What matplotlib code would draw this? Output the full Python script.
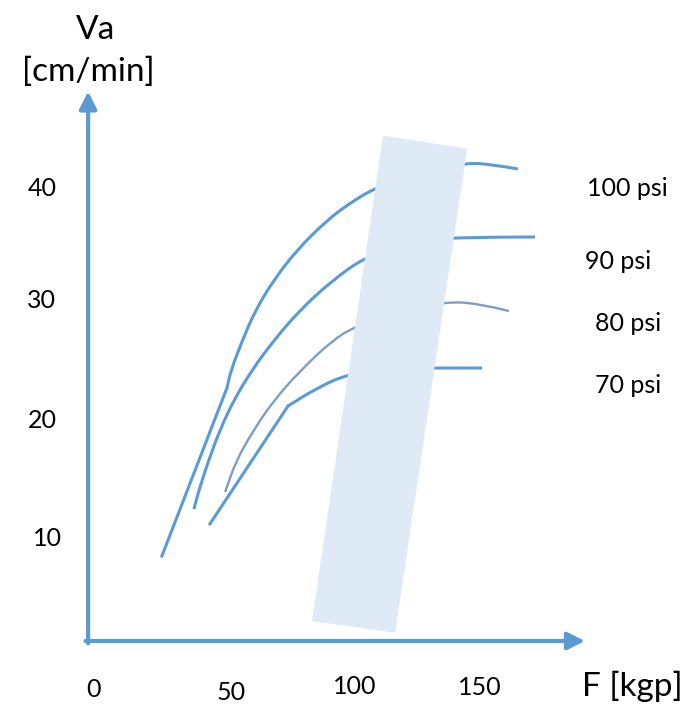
import matplotlib
matplotlib.use("Agg")
import matplotlib.pyplot as plt
from matplotlib.patches import Polygon, PathPatch
from matplotlib.path import Path

plt.rcParams['font.family'] = ['Lato', 'DejaVu Sans']

# curves: force F [kgp] vs. speed Va [cm/min]
# first point of 100 psi and 70 psi is the start of a straight segment
f_100 = [26.7, 51.9, 53.5, 57.8, 62.8, 69.8, 78.7, 90.3, 99.6, 109.3,
         126.7, 144.2, 153.9, 164.7]
va_100 = [8.48, 22.88, 24.42, 26.91, 29.48, 32.05, 34.62, 37.19, 38.73,
          40.02, 41.39, 42.16, 42.07, 41.65]

f_90 = [39.1, 41.1, 44.7, 49.2, 54.4, 61.6, 69.9, 80.2, 92.5, 105.4, 122.9,
        140.3, 171.3]
va_90 = [12.51, 14.14, 16.62, 19.28, 21.77, 24.42, 26.91, 29.56, 32.05, 34.10,
         35.39, 35.82, 35.82]

f_80 = [51.2, 55.4, 62.0, 69.9, 80.2, 92.5, 101.2, 119.0, 136.4, 148.8, 161.2]
va_80 = [13.97, 16.62, 19.19, 21.77, 24.34, 26.91, 28.11, 29.56, 30.25, 30.16,
         29.48]

f_70 = [45.3, 75.6, 86.8, 98.8, 117.1, 133.3, 150.8]
va_70 = [11.23, 21.34, 22.88, 24.08, 24.59, 24.59, 24.59]

# shaded working band (corners)
band_f = [112.4, 145.0, 117.1, 84.9]
band_va = [44.5, 43.4, 1.9, 2.9]

x_ticks = ["0", "50", "100", "150"]
x_tick_pos = [(0, -3.0), (53.5, -3.2), (101.6, -2.7), (150, -2.8)]
y_ticks = ["40", "30", "20", "10"]
y_tick_pos = [(-19.8, 40.0), (-19.8, 30.4), (-19.8, 20.1), (-17.8, 10.0)]
psi_labels = ["100 psi", "90 psi", "80 psi", "70 psi"]
psi_pos = [(207.0, 40.0), (203.5, 33.7), (207.4, 28.4), (207.4, 23.1)]

blue = "#5b9bd5"
grey_blue = "#7f9cc4"


def smooth_path(xs, ys):
    # quadratic curve through the midpoints, using the points as controls
    pts = list(zip(xs, ys))
    verts = [pts[0]]
    codes = [Path.MOVETO]
    if len(pts) > 2:
        mid = ((pts[0][0] + pts[1][0]) / 2, (pts[0][1] + pts[1][1]) / 2)
        verts.append(mid)
        codes.append(Path.LINETO)
        for i in range(1, len(pts) - 1):
            if i < len(pts) - 2:
                end = ((pts[i][0] + pts[i + 1][0]) / 2,
                       (pts[i][1] + pts[i + 1][1]) / 2)
            else:
                end = pts[-1]
            verts += [pts[i], end]
            codes += [Path.CURVE3, Path.CURVE3]
    else:
        verts.append(pts[1])
        codes.append(Path.LINETO)
    return Path(verts, codes)


def draw_curve(ax, xs, ys, color, lw):
    patch = PathPatch(smooth_path(xs, ys), facecolor="none", edgecolor=color,
                      lw=lw, zorder=2, capstyle="butt")
    ax.add_patch(patch)


fig = plt.figure(figsize=(6.97, 7.04), dpi=100)
ax = fig.add_axes([0, 0, 1, 1])
ax.set_xlim(-36.05, 234.1)
ax.set_ylim(-4.2, 56.13)
ax.axis("off")

# straight starts
ax.plot(f_100[:2], va_100[:2], color=blue, lw=2.2, zorder=2)
ax.plot(f_70[:2], va_70[:2], color=blue, lw=2.2, zorder=2)

draw_curve(ax, f_100[1:], va_100[1:], blue, 2.2)
draw_curve(ax, f_90, va_90, blue, 2.2)
draw_curve(ax, f_80, va_80, grey_blue, 1.7)
draw_curve(ax, f_70[1:], va_70[1:], blue, 2.2)

band = Polygon(list(zip(band_f, band_va)), closed=True, facecolor="#deeaf6",
               edgecolor="none", zorder=3)
ax.add_patch(band)

# axes arrows
arrow = dict(arrowstyle="-|>", lw=3, color=blue, mutation_scale=26,
             shrinkA=0, shrinkB=0)
ax.annotate("", xy=(-1.9, 48.3), xytext=(-1.9, 1.0), arrowprops=arrow)
ax.annotate("", xy=(190.7, 1.2), xytext=(-2.9, 1.2), arrowprops=arrow)

ax.text(0.8, 53.6, "Va", fontsize=24, ha="center", va="center")
ax.text(-1.9, 50.0, "[cm/min]", fontsize=24, ha="center", va="center")
ax.text(208.9, -2.7, "F [kgp]", fontsize=24, ha="center", va="center")

for lab, (x, y) in zip(x_ticks, x_tick_pos):
    ax.text(x, y, lab, fontsize=18, ha="center", va="center")
for lab, (x, y) in zip(y_ticks, y_tick_pos):
    ax.text(x, y, lab, fontsize=18, ha="center", va="center")
for lab, (x, y) in zip(psi_labels, psi_pos):
    ax.text(x, y, lab, fontsize=18, ha="center", va="center")

fig.savefig("out.png", dpi=100)
